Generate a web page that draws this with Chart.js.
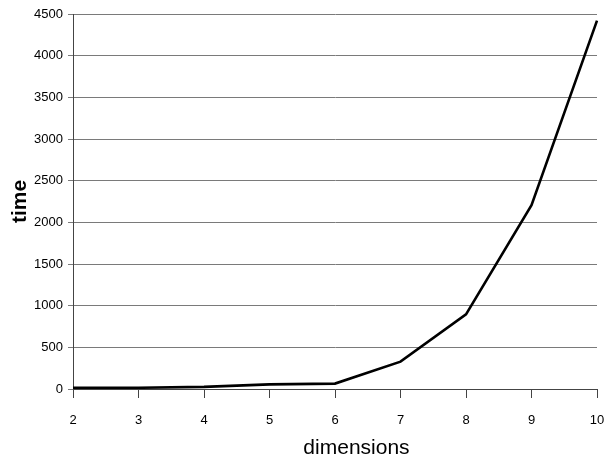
<!DOCTYPE html>
<html>
<head>
<meta charset="utf-8">
<script src="https://cdn.jsdelivr.net/npm/chart.js@4/dist/chart.umd.min.js"></script>
<style>
  html, body { margin: 0; padding: 0; background: #fff; }
  #wrap { width: 607px; height: 457px; position: relative; }
</style>
</head>
<body>
<div id="wrap"><canvas id="c" width="607" height="457"></canvas></div>
<script>
const dimensions = ['2', '3', '4', '5', '6', '7', '8', '9', '10'];
const timeValues = [15, 15, 25, 55, 65, 328, 896, 2205, 4420];
const yTickMin = 0;
const yTickMax = 4500;
const yTickStep = 500;
const xTitle = 'dimensions';
const yTitle = 'time';

const tickFont = { family: "'Liberation Sans', Arial, sans-serif", size: 13 };

const xTitlePlugin = {
  id: 'xTitlePlugin',
  afterDraw(chart) {
    const ctx = chart.ctx;
    const a = chart.chartArea;
    ctx.save();
    ctx.font = "21px 'Liberation Sans', Arial, sans-serif";
    ctx.fillStyle = '#000';
    ctx.textAlign = 'center';
    ctx.textBaseline = 'alphabetic';
    ctx.fillText(xTitle, a.left + a.width * 0.541, 454);
    ctx.restore();
  }
};

new Chart(document.getElementById('c'), {
  type: 'line',
  data: {
    labels: dimensions,
    datasets: [{
      data: timeValues,
      borderColor: '#000',
      borderWidth: 2.6,
      pointRadius: 0,
      tension: 0,
      fill: false
    }]
  },
  options: {
    responsive: false,
    animation: false,
    devicePixelRatio: 1,
    layout: { padding: { left: 0, right: 10, top: 14, bottom: 0 } },
    plugins: { legend: { display: false }, tooltip: { enabled: false } },
    scales: {
      x: {
        type: 'category',
        offset: false,
        grid: { display: true, drawOnChartArea: false, drawTicks: true, tickLength: 9, color: '#444', lineWidth: 1 },
        border: { display: true, color: '#444', width: 1 },
        ticks: { color: '#000', font: tickFont, padding: 15, maxRotation: 0, autoSkip: false },
        afterFit(scale) { scale.height = 68; scale.paddingLeft = 0; scale.paddingRight = 0; }
      },
      y: {
        min: yTickMin,
        max: yTickMax,
        grid: { color: '#7a7a7a', lineWidth: 1, drawTicks: true, tickLength: 5 },
        border: { display: true, color: '#444', width: 1 },
        ticks: {
          stepSize: yTickStep, color: '#000', font: tickFont, padding: 5,
          callback: (v) => String(v)
        },
        title: {
          display: true,
          text: yTitle,
          color: '#000',
          font: { family: "'Liberation Sans', Arial, sans-serif", size: 21, weight: 'bold' },
          padding: { top: 8, bottom: 0 }
        },
        afterFit(scale) { scale.width = 73; scale.paddingTop = 0; scale.paddingBottom = 0; }
      }
    }
  },
  plugins: [xTitlePlugin]
});
</script>
</body>
</html>
